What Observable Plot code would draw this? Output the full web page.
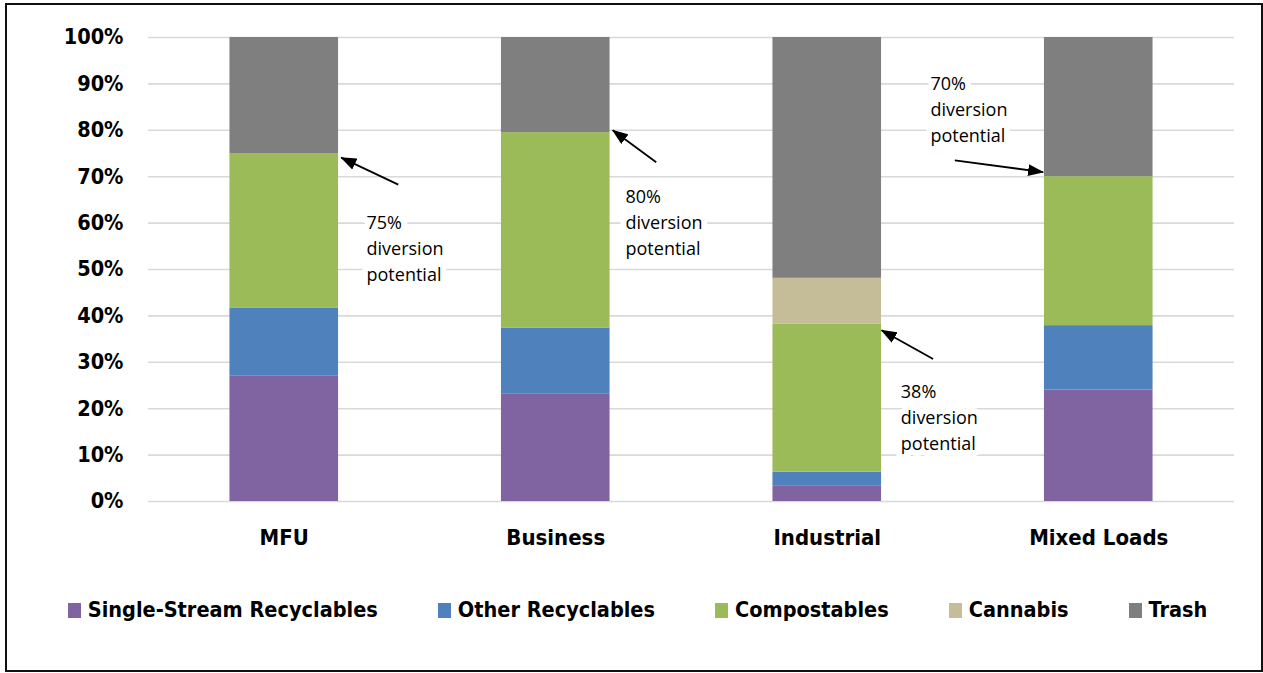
<!DOCTYPE html>
<html><head><meta charset="utf-8">
<script src="https://cdn.jsdelivr.net/npm/d3@7"></script>
<script src="https://cdn.jsdelivr.net/npm/@observablehq/plot@0.6"></script>
<style>
body{margin:0;background:#fff;width:1263px;height:673px;overflow:hidden;position:relative;font-family:"DejaVu Sans Condensed","DejaVu Sans",sans-serif}
#frame{position:absolute;left:5px;top:3px;width:1258px;height:669px;border:2px solid #111;box-sizing:border-box}
#chart{position:absolute;left:0;top:0}
#legend{position:absolute;left:6px;top:598px;width:1263px;display:flex;justify-content:center;gap:60px;font-weight:bold;font-size:21.5px;color:#000;line-height:24px}
.item{display:flex;align-items:center;white-space:nowrap}
.sw{width:13px;height:15px;margin-right:7px;display:inline-block}
</style></head><body>
<div id="frame"></div><div id="chart"></div><div id="legend"></div>
<script>
const categories = ["MFU", "Business", "Industrial", "Mixed Loads"];
const seriesNames = ["Single-Stream Recyclables", "Other Recyclables", "Compostables", "Cannabis", "Trash"];
const seriesColors = ["#8064A2", "#4F81BD", "#9BBB59", "#C4BD97", "#7F7F7F"];
const singleStream = [27.1, 23.1, 3.4, 24.0];
const otherRecyclables = [14.6, 14.3, 2.9, 13.9];
const compostables = [33.3, 42.1, 31.9, 32.1];
const cannabis = [0, 0, 9.9, 0];
const trash = [25.0, 20.5, 51.9, 30.0];
const yTicks = [0, 10, 20, 30, 40, 50, 60, 70, 80, 90, 100];
const annotationText = ["75%\ndiversion\npotential", "80%\ndiversion\npotential", "38%\ndiversion\npotential", "70%\ndiversion\npotential"];
const annotationX = [0.303, 1.257, 2.271, 2.38];
const annotationY = [55.0, 60.6, 18.4, 84.9];
const arrowX1 = [0.42, 1.37, 2.39, 2.47];
const arrowY1 = [68.3, 73.1, 30.7, 73.5];
const arrowX2 = [0.21, 1.21, 2.20, 2.795];
const arrowY2 = [74.1, 80.0, 36.9, 71.0];

const seriesValues = [singleStream, otherRecyclables, compostables, cannabis, trash];
const rows = [];
categories.forEach((c, i) => {
  let acc = 0;
  seriesValues.forEach((vals, s) => {
    if (vals[i] > 0) rows.push({i, series: seriesNames[s], y1: acc, y2: acc + vals[i]});
    acc += vals[i];
  });
});
const annotations = annotationText.map((t, k) => ({t, x: annotationX[k], y: annotationY[k]}));
const arrows = arrowX1.map((x, k) => ({x1: x, y1: arrowY1[k], x2: arrowX2[k], y2: arrowY2[k]}));

function filledArrow(color, context) {
  const doc = (context && context.document) || document;
  const ns = "http://www.w3.org/2000/svg";
  const m = doc.createElementNS(ns, "marker");
  m.setAttribute("viewBox", "0 0 16 12");
  m.setAttribute("markerWidth", 16);
  m.setAttribute("markerHeight", 12);
  m.setAttribute("markerUnits", "userSpaceOnUse");
  m.setAttribute("refX", 15);
  m.setAttribute("refY", 6);
  m.setAttribute("orient", "auto");
  const p = doc.createElementNS(ns, "path");
  p.setAttribute("d", "M0,0L16,6L0,12Z");
  p.setAttribute("fill", "black");
  p.setAttribute("stroke", "none");
  m.appendChild(p);
  return m;
}

const boldFont = '"DejaVu Sans Condensed","DejaVu Sans",sans-serif';
const plot = Plot.plot({
  width: 1263, height: 561,
  marginLeft: 148, marginRight: 29, marginTop: 37, marginBottom: 60,
  style: {fontFamily: boldFont, background: "transparent", color: "#000", overflow: "visible"},
  x: {domain: [-0.5, 3.5], axis: null},
  y: {domain: [0, 100], axis: null},
  color: {domain: seriesNames, range: seriesColors},
  marks: [
    Plot.ruleY(yTicks, {stroke: "#D9D9D9", strokeWidth: 1.6}),
    Plot.rectY(rows, {x1: d => d.i - 0.2, x2: d => d.i + 0.2, y1: "y1", y2: "y2", fill: "series"}),
    Plot.axisY({ticks: yTicks, tickFormat: d => d + "%", tickSize: 0, tickPadding: 25, fontSize: 21.5, fontWeight: "bold", label: null}),
    Plot.axisX({ticks: [0, 1, 2, 3], tickFormat: i => categories[i], tickSize: 0, tickPadding: 28, fontSize: 22, fontWeight: "bold", label: null}),
    Plot.text(annotations, {x: "x", y: "y", text: "t", textAnchor: "start", lineAnchor: "middle", lineHeight: 1.44, fontSize: 18, fontFamily: '"Open Sans",sans-serif', fill: "black", stroke: "white", strokeWidth: 12}),
    Plot.link(arrows, {x1: "x1", y1: "y1", x2: "x2", y2: "y2", stroke: "black", strokeWidth: 1.8, markerEnd: filledArrow})
  ]
});
document.getElementById("chart").appendChild(plot);

const legend = document.getElementById("legend");
seriesNames.forEach((n, k) => {
  const it = document.createElement("div");
  it.className = "item";
  const sw = document.createElement("span");
  sw.className = "sw";
  sw.style.background = seriesColors[k];
  it.appendChild(sw);
  it.appendChild(document.createTextNode(n));
  legend.appendChild(it);
});
</script>
</body></html>
